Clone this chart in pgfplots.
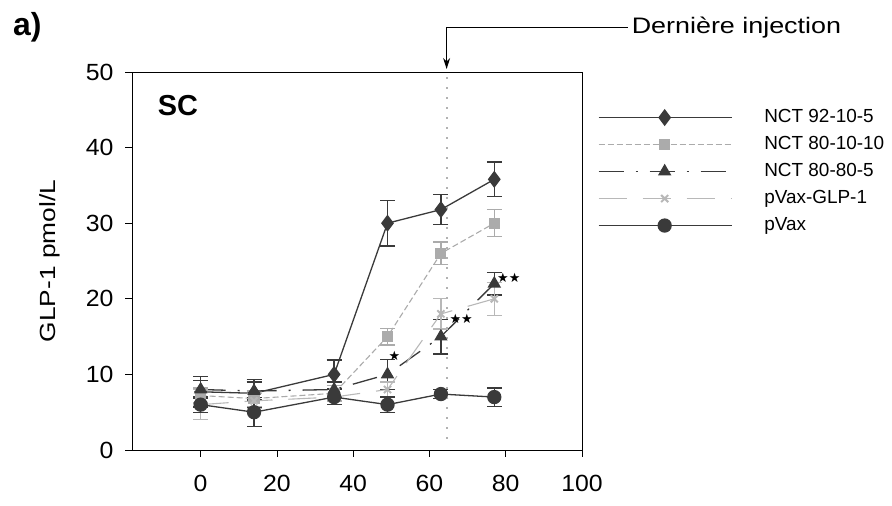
\documentclass[border=0pt]{standalone}
\usepackage{pgfplots}
\pgfplotsset{compat=1.18}
\usetikzlibrary{arrows.meta}
\usepackage{fontspec}
\setmainfont{Liberation Sans}
\newfontfamily\widefont[FakeStretch=1.2]{Liberation Sans}
\newfontfamily\tickfont[FakeStretch=1.06]{Liberation Sans}
\newfontfamily\djv{DejaVu Sans}
\definecolor{dk}{HTML}{3A3A3A}
\definecolor{lt}{HTML}{ABABAB}
\definecolor{ltx}{HTML}{B8B8B8}

\begin{document}
\begin{tikzpicture}
\useasboundingbox (0bp,0bp) rectangle (892bp,506bp);
\begin{axis}[
  at={(132bp,56bp)}, anchor=south west,
  scale only axis, width=450bp, height=378bp,
  xmin=-18, xmax=100, ymin=0, ymax=50,
  xtick={0,20,...,100}, ytick={0,10,...,50},
  tick align=outside, tick pos=left, major tick length=7bp,
  tick style={line width=0.8bp, color=black},
  axis line style={line width=0.8bp},
  /pgf/number format/assume math mode=true,
  ticklabel style={font=\tickfont\fontsize{23.5}{25}\selectfont},
  xticklabel style={yshift=-15bp},
  yticklabel style={xshift=-8bp},
  ylabel={GLP-1 pmol/L},
  ylabel style={font=\widefont\fontsize{22}{24}\selectfont, at={(axis description cs:-0.182,0.5)}, anchor=center},
  clip=false,
  legend cell align=left,
  legend image code/.code={\draw[mark repeat=2,mark phase=2,#1] plot coordinates {(0bp,0bp) (66bp,0bp) (133bp,0bp)};},
  legend style={at={(1.0356,0.902)}, anchor=north west, draw=none, fill=none,
    inner sep=0pt, outer sep=0pt, row sep=10bp,
    font=\fontsize{19}{21}\selectfont,
    nodes={inner sep=0pt, text height=13bp, text depth=4bp},
    /tikz/every odd column/.style={column sep=32bp}},
  error bars/y dir=both, error bars/y explicit,
  error bars/error mark options={rotate=90, mark size=7.5bp, line width=1.3bp},
  error bars/error bar style={line width=1.3bp, solid},
]
% NCT 92-10-5
\addplot[color=dk, line width=1.3bp, mark=diamond*, mark size=7.5bp, mark options={solid, fill=dk}]
  table[row sep=\\, x=x, y=y, y error=e] {
  x y e \\
  0 7.7 2.0 \\
  14 7.5 1.8 \\
  35 10 1.9 \\
  49 30 3.0 \\
  63 31.8 2.0 \\
  77 35.8 2.3 \\
  };
\addlegendentry{NCT 92-10-5}
% NCT 80-10-10
\addplot[color=lt, line width=1.1bp, dash pattern=on 6bp off 3bp, mark=square*, mark size=5bp, mark options={solid, fill=lt}]
  table[row sep=\\, x=x, y=y, y error=e] {
  x y e \\
  0 7.2 1.0 \\
  14 6.8 1.0 \\
  35 7.5 1.0 \\
  49 15 1.1 \\
  63 26 1.5 \\
  77 30 1.8 \\
  };
\addlegendentry{NCT 80-10-10}
% NCT 80-80-5
\addplot[color=dk, line width=1.3bp, dash pattern=on 25bp off 12bp on 2bp off 12bp, mark=triangle*, mark size=6.5bp, mark options={solid, fill=dk}]
  table[row sep=\\, x=x, y=y, y error=e] {
  x y e \\
  0 8 1.2 \\
  14 7.8 1.2 \\
  35 8 1.0 \\
  49 10 2.0 \\
  63 15 2.3 \\
  77 22 1.5 \\
  };
\addlegendentry{NCT 80-80-5}
% pVax-GLP-1
\addplot[color=ltx, line width=1.1bp, dash pattern=on 28bp off 16bp, mark=x, mark size=5bp, mark options={solid, line width=2bp}]
  table[row sep=\\, x=x, y=y, y error=e] {
  x y e \\
  0 6 2.0 \\
  14 6.5 1.0 \\
  35 7 1.0 \\
  49 8 1.0 \\
  63 18 2.0 \\
  77 20 2.2 \\
  };
\addlegendentry{pVax-GLP-1}
% pVax
\addplot[color=dk, line width=1.3bp, mark=*, mark size=6.5bp, mark options={solid, fill=dk}]
  table[row sep=\\, x=x, y=y, y error=e] {
  x y e \\
  0 6 1.0 \\
  14 5 1.9 \\
  35 7 1.0 \\
  49 6 1.0 \\
  63 7.4 0.6 \\
  77 7 1.2 \\
  };
\addlegendentry{pVax}
% last injection marker
\draw[gray!60, line width=2bp, dash pattern=on 2bp off 8bp] (axis cs:64.5,1.5) -- (axis cs:64.5,50);
\draw[line width=1bp, -{Stealth[length=11bp,width=7bp]}] (axis cs:112,55.9) -- (axis cs:64.5,55.9) -- (axis cs:64.5,50.4);
\node[anchor=west, font=\widefont\fontsize{22.5}{24}\selectfont, inner sep=0pt] at (axis cs:113,55.9) {Dernière injection};
\node[anchor=west, font=\fontsize{29}{31}\selectfont\bfseries, inner sep=0pt] at (axis cs:-11.3,45.5) {SC};
% significance stars
\node[font=\djv\fontsize{13}{14}\selectfont, inner sep=0pt] at (axis cs:50.8,12.5) {★};
\node[font=\djv\fontsize{13}{14}\selectfont, inner sep=0pt] at (axis cs:68.3,17.4) {★★};
\node[font=\djv\fontsize{13}{14}\selectfont, inner sep=0pt] at (axis cs:80.8,22.8) {★★};
\end{axis}
\node[anchor=west, font=\fontsize{32}{34}\selectfont\bfseries, inner sep=0pt] at (13bp,479bp) {a)};
\end{tikzpicture}
\end{document}
